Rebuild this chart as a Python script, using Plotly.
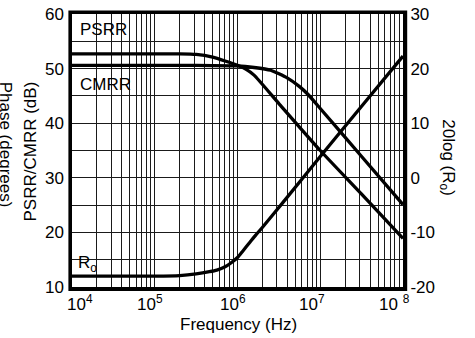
import numpy as np
import plotly.graph_objects as go

# ---- data ----
psrr_logf = [4.0, 5.0, 5.3, 5.5, 5.7, 5.85, 6.0, 6.1, 6.2, 6.5, 7.0, 7.5, 8.0]
psrr_db = [52.7, 52.7, 52.7, 52.6, 52.1, 51.4, 50.6, 49.9, 48.8, 43.6, 35.0, 27.0, 18.9]

cmrr_logf = [4.0, 5.0, 5.5, 6.0, 6.2, 6.4, 6.6, 6.75, 6.85, 7.0, 7.5, 8.0]
cmrr_db = [50.6, 50.6, 50.6, 50.5, 50.2, 49.7, 48.3, 46.7, 45.3, 42.7, 33.9, 25.1]

ro_logf = [4.0, 5.0, 5.3, 5.5, 5.66, 5.75, 5.85, 5.92, 6.0, 6.07, 6.15, 6.22, 6.3, 6.55, 7.0, 7.5, 8.0]
ro_db = [-18.0, -18.0, -17.9, -17.6, -17.2, -16.9, -16.3, -15.6, -14.6, -13.3, -11.8, -10.5, -9.1, -4.5, 3.9, 13.1, 22.3]

x_tick_values = [1e4, 1e5, 1e6, 1e7, 1e8]
x_tick_labels = ["10<sup>4</sup>", "10<sup>5</sup>", "10<sup>6</sup>", "10<sup>7</sup>", "10 <sup>8</sup>"]
x_label_shift = [8, -5, -5, -8, -9]
grid_x = [m * 10 ** d for d in range(4, 8) for m in range(1, 10)] + [1e8]

y_left_values = list(range(10, 61, 5))
y_left_labels = [str(v) if v % 10 == 0 else "" for v in y_left_values]
y_right_values = [-20, -10, 0, 10, 20, 30]
y_right_labels = ["-20", "-10", "0", "10", "20", "30"]

FONT = "Arial, Liberation Sans, Helvetica, sans-serif"
W, H = 475, 338
ML, MR, MT, MB = 72, 72, 5, 51
PW, PH = W - ML - MR, H - MT - MB


def px(x):
    return (x - ML) / PW


def py(y):
    return (H - MB - y) / PH


fig = go.Figure()
line = dict(color="black", width=3.3)
fig.add_trace(go.Scatter(x=[10 ** v for v in psrr_logf], y=psrr_db, mode="lines",
                         line=dict(line, shape="spline", smoothing=0.5), showlegend=False))
fig.add_trace(go.Scatter(x=[10 ** v for v in cmrr_logf], y=cmrr_db, mode="lines",
                         line=dict(line, shape="spline", smoothing=0.5), showlegend=False))
fig.add_trace(go.Scatter(x=[10 ** v for v in ro_logf], y=ro_db, mode="lines", yaxis="y2",
                         line=dict(line, shape="spline", smoothing=0.6), showlegend=False))

annotations = []
for v, t, s in zip(x_tick_values, x_tick_labels, x_label_shift):
    annotations.append(dict(x=np.log10(v), xref="x", y=0, yref="paper", yanchor="top",
                            xanchor="center", yshift=-4, xshift=s, text=t, showarrow=False,
                            borderpad=0, font=dict(family=FONT, size=17, color="black")))

annotations += [
    dict(x=px(78), y=py(21), xref="paper", yref="paper", xanchor="left", yanchor="middle",
         text="PSRR", showarrow=False, font=dict(family=FONT, size=17, color="black")),
    dict(x=px(78), y=py(78), xref="paper", yref="paper", xanchor="left", yanchor="middle",
         text="CMRR", showarrow=False, font=dict(family=FONT, size=17, color="black")),
    dict(x=px(76), y=py(263), xref="paper", yref="paper", xanchor="left", yanchor="middle",
         text="R<sub>o</sub>", showarrow=False, font=dict(family=FONT, size=17, color="black")),
    dict(x=px(238), y=py(326), xref="paper", yref="paper", xanchor="center", yanchor="middle",
         text="Frequency (Hz)", showarrow=False, borderpad=0,
         font=dict(family=FONT, size=17, color="black")),
    dict(x=px(30), y=py(147), xref="paper", yref="paper", xanchor="center", yanchor="middle",
         text="PSRR/CMRR (dB)", textangle=-90, showarrow=False,
         font=dict(family=FONT, size=17, color="black")),
    dict(x=px(5), y=py(140), xref="paper", yref="paper", xanchor="center", yanchor="middle",
         text="Phase (degrees)", textangle=90, showarrow=False,
         font=dict(family=FONT, size=17, color="black")),
    dict(x=px(447), y=py(153), xref="paper", yref="paper", xanchor="center", yanchor="middle",
         text="20log (R<sub>o</sub>)", textangle=90, showarrow=False,
         font=dict(family=FONT, size=17, color="black")),
]

fig.update_layout(
    width=W, height=H,
    margin=dict(l=ML, r=MR, t=MT, b=MB),
    paper_bgcolor="white", plot_bgcolor="white",
    font=dict(family=FONT, size=17, color="black"),
    xaxis=dict(type="log", range=[4, 8], tickvals=grid_x, showticklabels=False,
               showgrid=True, gridcolor="#1a1a1a", gridwidth=1.4,
               showline=True, linecolor="black", linewidth=1.5, mirror=True,
               ticks="", zeroline=False),
    yaxis=dict(range=[10, 60], tickvals=y_left_values, ticktext=y_left_labels,
               showgrid=True, gridcolor="#1a1a1a", gridwidth=1.4,
               showline=True, linecolor="black", linewidth=1.5, mirror=True,
               ticks="outside", ticklen=3, tickcolor="rgba(0,0,0,0)", zeroline=False,
               tickfont=dict(size=17), ticklabeloverflow="allow"),
    yaxis2=dict(range=[-20, 30], tickvals=y_right_values, ticktext=y_right_labels,
                overlaying="y", side="right",
                showgrid=False, zeroline=False, ticks="outside", ticklen=3,
                tickcolor="rgba(0,0,0,0)", tickfont=dict(size=17), ticklabeloverflow="allow"),
    annotations=annotations,
    shapes=[dict(type="rect", xref="paper", yref="paper",
                 x0=-2.2 / PW, x1=1 + 2.8 / PW, y0=-2.8 / PH, y1=1 + 2.2 / PH,
                 line=dict(color="black", width=2.8), fillcolor="rgba(0,0,0,0)", layer="above")],
)

fig.write_html("out.html")
